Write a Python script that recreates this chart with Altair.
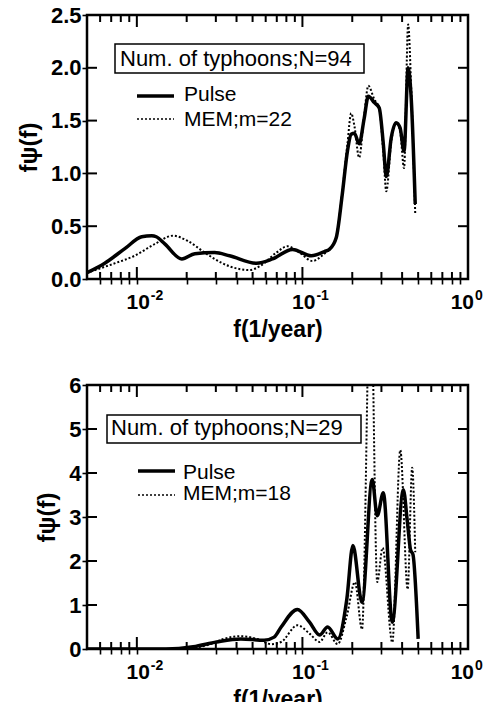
import altair as alt
import pandas as pd

# ---------------- data ----------------
top_pulse_f = [0.005, 0.0064, 0.0085, 0.0107, 0.0123, 0.0131, 0.0148, 0.0187, 0.0224, 0.0295,
               0.0363, 0.0529, 0.0660, 0.0871, 0.1133, 0.1358, 0.1455, 0.160, 0.174, 0.187,
               0.197, 0.206, 0.220, 0.236, 0.250, 0.272, 0.291, 0.308, 0.321, 0.344,
               0.368, 0.389, 0.411, 0.435, 0.454, 0.480]
top_pulse_v = [0.06, 0.15, 0.29, 0.40, 0.41, 0.40, 0.33, 0.19, 0.24, 0.25,
               0.22, 0.15, 0.19, 0.28, 0.22, 0.26, 0.28, 0.39, 0.80, 1.21,
               1.37, 1.38, 1.28, 1.52, 1.73, 1.67, 1.62, 1.28, 0.97, 1.34,
               1.48, 1.43, 1.21, 2.00, 1.71, 0.71]
top_mem_f = [0.005, 0.0074, 0.0097, 0.0128, 0.0165, 0.0203, 0.0257, 0.0295, 0.0363, 0.0480,
             0.0551, 0.0697, 0.0812, 0.0960, 0.1148, 0.1358, 0.1455, 0.160, 0.174, 0.187,
             0.197, 0.206, 0.220, 0.236, 0.250, 0.272, 0.291, 0.308, 0.321, 0.344,
             0.368, 0.389, 0.411, 0.435, 0.454, 0.480]
top_mem_v = [0.06, 0.15, 0.22, 0.33, 0.41, 0.36, 0.25, 0.19, 0.12, 0.085,
             0.12, 0.25, 0.31, 0.25, 0.17, 0.24, 0.28, 0.40, 0.82, 1.28,
             1.57, 1.45, 1.15, 1.55, 1.83, 1.70, 1.62, 1.20, 0.83, 1.30,
             1.48, 1.40, 1.05, 2.41, 1.80, 0.62]

bot_pulse_f = [0.005, 0.0150, 0.0219, 0.0303, 0.0425, 0.0587, 0.0675, 0.0744, 0.0933, 0.1104,
               0.1270, 0.1420, 0.1633, 0.1854, 0.2018, 0.229, 0.264, 0.283, 0.308, 0.349,
               0.407, 0.430, 0.450, 0.465, 0.500]
bot_pulse_v = [0.0, 0.0, 0.05, 0.16, 0.23, 0.20, 0.27, 0.50, 0.90, 0.61,
               0.32, 0.50, 0.23, 1.13, 2.35, 1.06, 3.85, 3.03, 3.55, 0.61,
               3.62, 2.90, 2.25, 2.15, 0.23]
bot_mem_f = [0.005, 0.018, 0.0279, 0.0334, 0.0425, 0.0532, 0.0647, 0.0744, 0.0933, 0.1104,
             0.1270, 0.1420, 0.1633, 0.1854, 0.2075, 0.229, 0.258, 0.283, 0.305, 0.349,
             0.390, 0.432, 0.460, 0.480]
bot_mem_v = [0.0, 0.0, 0.11, 0.23, 0.29, 0.23, 0.11, 0.16, 0.54, 0.35,
             0.16, 0.38, 0.11, 0.75, 1.52, 0.45, 8.5, 1.52, 2.30, 0.15,
             4.52, 1.36, 4.12, 2.20]

x_minor = [0.006, 0.007, 0.008, 0.009,
           0.02, 0.03, 0.04, 0.05, 0.06, 0.07, 0.08, 0.09,
           0.2, 0.3, 0.4, 0.5, 0.6, 0.7, 0.8, 0.9]
x_major = [0.01, 0.1]
x_label_pos = [0.01, 0.1]
x_label_exp = ["-2", "-1"]
x_last_pos = [1.0]
x_last_exp = ["0"]

top_yticks = [0, 0.5, 1.0, 1.5, 2.0, 2.5]
bot_yticks = [0, 1, 2, 3, 4, 5, 6]

top_box_text = "Num. of typhoons;N=94"
bot_box_text = "Num. of typhoons;N=29"
series_names = ["Pulse"]
top_mem_name = "MEM;m=22"
bot_mem_name = "MEM;m=18"

X_TITLE = "f(1/year)"
Y_TITLE = "fψ(f)"

W, H = 381, 264
FONT = "Liberation Sans"
XMIN, XMAX = 0.005, 1.0
one = pd.DataFrame({"a": [0]})


def tick_segments(ymax, yticks):
    """Short inward tick segments along all frame edges, as 2-point lines."""
    rows = []
    k = 0
    per_px_y = ymax / H
    for vals, ln in ((x_minor, 7), (x_major, 12)):
        for f in vals:
            for a, b in ((0.0, ln * per_px_y), (ymax, ymax - ln * per_px_y)):
                rows.append({"f": f, "v": a, "id": k})
                rows.append({"f": f, "v": b, "id": k})
                k += 1
    ratio = (XMAX / XMIN) ** (10.0 / W)
    for v in yticks[1:-1]:
        for a, b in ((XMIN, XMIN * ratio), (XMAX, XMAX / ratio)):
            rows.append({"f": a, "v": v, "id": k})
            rows.append({"f": b, "v": v, "id": k})
            k += 1
    return pd.DataFrame(rows)


def panel(pf, pv, mf, mv, ymax, yticks, yfmt, box_text, mem_name, box, leg):
    xs = alt.Scale(type="log", domain=[XMIN, XMAX], nice=False)
    ys = alt.Scale(domain=[0, ymax], nice=False)
    # standard (outward) axis ticks so that tick marks are always visible
    xaxis = alt.Axis(labels=False, ticks=True, values=x_minor + x_major,
                     tickSize=5, tickColor="black", tickWidth=1.6,
                     domain=False, grid=False, titlePadding=34, titleFontSize=23)
    yaxis = alt.Axis(values=yticks, format=yfmt, ticks=True,
                     tickSize=5, tickColor="black", tickWidth=1.6,
                     domain=False, grid=False, labelPadding=1, titlePadding=9,
                     titleFontSize=24)
    X = lambda: alt.X("f:Q", scale=xs, axis=xaxis, title=X_TITLE)
    Y = lambda: alt.Y("v:Q", scale=ys, axis=yaxis, title=Y_TITLE)

    dp = pd.DataFrame({"f": pf, "v": pv})
    dm = pd.DataFrame({"f": mf, "v": mv})
    pulse = alt.Chart(dp).mark_line(color="black", strokeWidth=3.5, clip=True,
                                    interpolate="monotone").encode(x=X(), y=Y())
    mem = alt.Chart(dm).mark_line(color="black", strokeWidth=2, strokeDash=[2, 2], clip=True,
                                  interpolate="monotone").encode(x=X(), y=Y())

    ticks = alt.Chart(tick_segments(ymax, yticks)).mark_line(
        color="black", strokeWidth=2, interpolate="linear").encode(
        x=X(), y=Y(), detail="id:N")

    texts = []
    for pos, exps, dx in ((x_label_pos, x_label_exp, 13), (x_last_pos, x_last_exp, 6)):
        dl = pd.DataFrame({"f": pos, "b": ["10"] * len(pos), "e": exps})
        texts.append(alt.Chart(dl).mark_text(align="right", baseline="alphabetic", dx=dx,
                                             font=FONT, fontSize=21, fontWeight="bold",
                                             color="black").encode(
            x=X(), y=alt.value(H + 30), text="b:N"))
        texts.append(alt.Chart(dl).mark_text(align="left", baseline="alphabetic", dx=dx + 1,
                                             font=FONT, fontSize=14, fontWeight="bold",
                                             color="black").encode(
            x=X(), y=alt.value(H + 21), text="e:N"))

    bx0, bx1, by0, by1, tx, ty = box
    boxrect = alt.Chart(one).mark_rect(fill="white", stroke="black", strokeWidth=1.5).encode(
        x=alt.value(bx0), x2=alt.value(bx1), y=alt.value(by0), y2=alt.value(by1))
    boxtext = alt.Chart(one).mark_text(align="left", baseline="alphabetic", font=FONT,
                                       fontSize=22, color="black").encode(
        x=alt.value(tx), y=alt.value(ty), text=alt.value(box_text))

    lx0, lx1, ly1, ly2, ltx, lty1, lty2 = leg
    l1 = alt.Chart(one).mark_rule(color="black", strokeWidth=3.5).encode(
        x=alt.value(lx0), x2=alt.value(lx1), y=alt.value(ly1))
    l2 = alt.Chart(one).mark_rule(color="black", strokeWidth=1.5, strokeDash=[2, 2]).encode(
        x=alt.value(lx0), x2=alt.value(lx1), y=alt.value(ly2))
    t1 = alt.Chart(one).mark_text(align="left", baseline="alphabetic", font=FONT,
                                  fontSize=21, color="black").encode(
        x=alt.value(ltx), y=alt.value(lty1), text=alt.value(series_names[0]))
    t2 = alt.Chart(one).mark_text(align="left", baseline="alphabetic", font=FONT,
                                  fontSize=21, color="black").encode(
        x=alt.value(ltx), y=alt.value(lty2), text=alt.value(mem_name))

    return alt.layer(pulse, mem, ticks, *texts, boxrect, boxtext, l1, l2, t1, t2).properties(
        width=W, height=H)


top = panel(top_pulse_f, top_pulse_v, top_mem_f, top_mem_v, 2.5, top_yticks, ".1f",
            top_box_text, top_mem_name,
            (28, 277, 29, 58, 33, 51), (50, 87, 81, 104, 97, 86, 111))
bot = panel(bot_pulse_f, bot_pulse_v, bot_mem_f, bot_mem_v, 6, bot_yticks, "d",
            bot_box_text, bot_mem_name,
            (20, 274, 30, 58, 24, 50), (51, 88, 86, 110, 96, 94, 115))

chart = alt.vconcat(top, bot, spacing=28).properties(
    padding={"left": 16, "top": 2, "right": 5, "bottom": 0},
    background="white",
).configure_view(stroke="black", strokeWidth=2.5).configure_axis(
    labelFont=FONT, labelFontSize=22, labelFontWeight="bold", labelColor="black",
    titleFont=FONT, titleFontSize=22, titleFontWeight="bold", titleColor="black",
)

chart.save("out.html", embed_options={"renderer": "svg", "actions": False})
